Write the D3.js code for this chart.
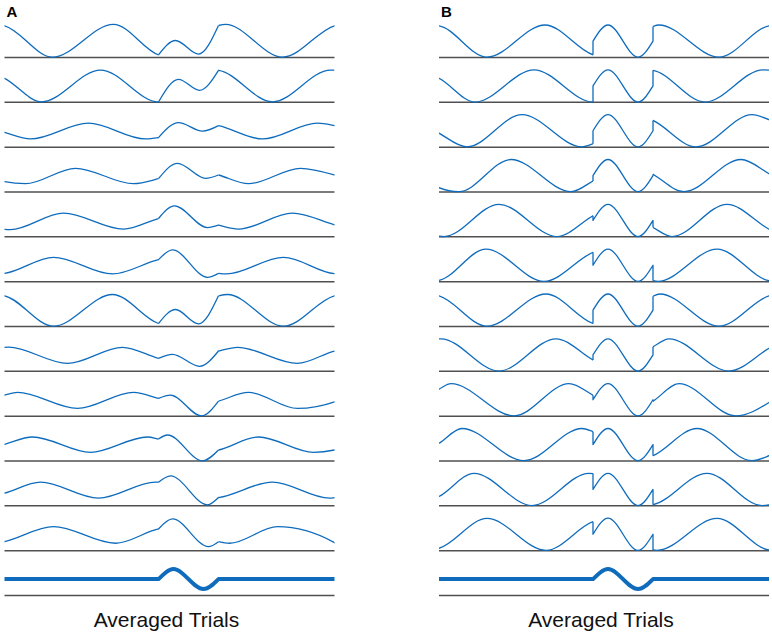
<!DOCTYPE html>
<html><head><meta charset="utf-8">
<script src="https://cdn.jsdelivr.net/npm/d3@7"></script>
<style>body{margin:0;background:#fff}svg{display:block}</style>
</head><body>
<svg id="c" width="772" height="635"></svg>
<script>
// ---------- data (time in samples 0..330, value above baseline) ----------
// Each background segment also carries the next extremum just beyond its
// visible range; it is clipped away when drawn.
const panelLabels = ["A", "B"];
const bottomLabel = "Averaged Trials";
const windowStart = 154, windowEnd = 214, timeEnd = 330;

// Panel A: single trials = background + evoked response
const preA = [
  [[-10,33.2],[0,31.7],[48,0.3],[109,33.2],[154,2.7],[164,0.3]],
  [[-21,32.3],[0,24],[37,0.5],[96,32.3],[154,0.3],[160,0.8]],
  [[-31,24],[0,14.8],[26,8.2],[84,24],[141,8.2],[154,9.5],[199,24]],
  [[-36,23.7],[0,10.3],[21,8.3],[71,23.7],[129,8.3],[154,13.3],[186,23.7]],
  [[-52,23.7],[0,7.5],[6,7.3],[59,23.7],[119,7.7],[154,18.3],[177,23.7]],
  [[-8,7.7],[0,8.3],[49,24.3],[108,7.7],[154,22],[165,24.3]],
  [[-10,32],[0,30.7],[49,0.3],[108,32],[154,3],[165,0.3]],
  [[-53,8],[4,24.2],[63,8],[118,24],[154,13],[176,8]],
  [[-44,7.7],[0,21],[13,23.7],[73,7.7],[129,23.7],[154,17.7],[186,7.7]],
  [[-29,8.7],[0,16.7],[28,24],[86,8.7],[143,24],[154,22],[200,8.7]],
  [[-21,7.7],[0,12.7],[36,23.7],[94,7.7],[151,23.7],[154,23.6],[209,7.7]],
  [[-8,7.4],[0,9],[49,24],[111,7.4],[154,21.7],[168,24]]
];
const winA = [
  [[154,2.7],[171,17],[194,3.4],[214,32]],
  [[154,0.3],[174,23],[195,12],[214,32]],
  [[154,9.5],[174,24.5],[198,16],[214,21.5]],
  [[154,13.3],[173,28.7],[201,13.7],[214,17]],
  [[154,18.3],[170,31],[203,9.3],[214,11.7]],
  [[154,22],[168,31.7],[203,4.3],[214,8.3]],
  [[154,3],[171,17],[194,2.7],[214,30.7]],
  [[154,13],[168,17],[195,5],[214,20.3]],
  [[154,17.7],[166,21],[197,0.3],[214,15]],
  [[154,22],[163,26],[198,0.2],[214,11]],
  [[154,23.6],[166,30],[203,1],[214,8.3]],
  [[154,21.7],[168,31.7],[204,4],[214,9]]
];
const postA = [
  [[214,32],[221,33.2],[278,0.3],[330,31.7],[336,33.2]],
  [[211,32.3],[214,32],[268,0.5],[326,32.3],[330,32.2]],
  [[200,24],[214,21.5],[258,8.2],[313,24],[330,21.5],[371,8.2]],
  [[186,23.7],[214,17],[244,8.3],[296,23.7],[330,17],[354,8.3]],
  [[177,23.7],[214,11.7],[234,7.7],[288,23.7],[330,12],[346,7.7]],
  [[214,8.3],[222,7.7],[279,24.3],[330,8],[337,7.7]],
  [[214,30.7],[223,32],[279,0.3],[330,30.7],[337,32]],
  [[176,8],[214,20.3],[233,24],[293,8],[330,20.3],[351,24]],
  [[186,7.7],[214,15],[244,23.7],[293,7.7],[330,14.3],[351,23.7]],
  [[200,8.7],[214,11],[254,24],[309,8.7],[330,11],[366,24]],
  [[209,7.7],[214,8.3],[268,23.7],[325,7.7],[330,8.1],[382,23.7]],
  [[214,9],[225,7.4],[273,24],[330,8],[331,7.4]]
];

// Panel B: background with phase reset inside the window
const preB = [
  [[-10,32.5],[0,31.7],[48,0.3],[106,32.5],[154,2.7],[164,0.3]],
  [[-22,32.5],[0,24],[36,0.3],[95,32.5],[154,0.3],[160,0.8]],
  [[-30,32.5],[0,14],[28,0.3],[83,32.5],[143,0.3],[154,3.4],[199,32.5]],
  [[-37,32.5],[0,4.3],[20,0.3],[72,32.5],[132,0.3],[154,11],[188,32.5]],
  [[-53,32.5],[0,0.6],[5,0.3],[60,32.5],[118,0.3],[154,21],[176,32.5]],
  [[-8,0.3],[0,1.2],[47,32.5],[105,0.3],[154,29.3],[163,32.5]],
  [[-10,32.5],[0,30.7],[48,0.3],[107,32.5],[154,3],[165,0.3]],
  [[-57,0.3],[2,32.5],[60,0.3],[117,32.5],[154,11.3],[175,0.3]],
  [[-45,0.3],[0,27],[12,32.5],[75,0.3],[130,32.5],[154,21],[187,0.3]],
  [[-34,0.3],[0,17.7],[23,32.5],[85,0.3],[143,32.5],[154,29.3],[200,0.3]],
  [[-22,0.3],[0,9.3],[35,32.5],[93,0.3],[150,32.5],[154,32.3],[208,0.3]],
  [[-10,0.3],[0,2.4],[48,32.2],[107,0.3],[154,29],[165,32.2]]
];
const resetWindowB = [[154,16.4],[169,32.5],[199,0.3],[214,16.4]];
const postB = [
  [[214,31],[220,32.5],[280,0.3],[330,31.7],[337,32.5]],
  [[210,32.5],[214,32],[266,0.3],[324,32.5],[330,32.2]],
  [[199,32.5],[214,26.7],[257,0.3],[313,32.5],[330,27.4],[371,0.3]],
  [[188,32.5],[214,17.7],[245,0.3],[302,32.5],[330,18.3],[359,0.3]],
  [[176,32.5],[214,9.3],[233,0.3],[288,32.5],[330,7.7],[346,0.3]],
  [[214,1],[219,0.3],[278,32.5],[330,1],[335,0.3]],
  [[214,30.3],[221,32.5],[280,0.3],[330,30.7],[337,32.5]],
  [[175,0.3],[214,24.6],[230,32.5],[290,0.3],[330,23],[347,32.5]],
  [[187,0.3],[214,15],[240,32.5],[297,0.3],[330,13.7],[354,32.5]],
  [[200,0.3],[214,5.3],[258,32.5],[313,0.3],[330,5.3],[370,32.5]],
  [[208,0.3],[214,1.2],[268,32.5],[323,0.3],[330,0.9],[380,32.5]],
  [[214,0.7],[218,0.3],[278,32.2],[330,0.7],[334,0.3]]
];

// Averaged trials (same in both panels)
const avgPre = [[0,16.4],[154,16.4]];
const avgWindow = [[154,16.4],[169,26.4],[199,6.4],[214,16.4]];
const avgPost = [[214,16.4],[330,16.4]];

// ---------- drawing ----------
const svg = d3.select("#c");
const defs = svg.append("defs");
const blue = "#0f6cbd";
const xA = d3.scaleLinear().domain([0,timeEnd]).range([4.5,334.5]);
const xB = d3.scaleLinear().domain([0,timeEnd]).range([439,769]);
const rowY = d3.scaleLinear().domain([0,12]).range([57.5,595.5]);
const vY = d3.scaleLinear().domain([0,33]).range([0,-33]);

function gen(x,row){
  const base = rowY(row);
  return d3.line().x(d=>x(d[0])).y(d=>base+vY(d[1])).curve(d3.curveMonotoneX);
}
function valueAt(seg,t){ const p = seg.find(d=>d[0]===t); return p ? p[1] : null; }

[[xA,0],[xB,1]].forEach(([x,p])=>{
  const id = panelLabels[p];
  defs.append("clipPath").attr("id","pre"+id).append("rect")
    .attr("x",x(0)).attr("y",0).attr("width",x(windowStart)-x(0)).attr("height",635);
  defs.append("clipPath").attr("id","post"+id).append("rect")
    .attr("x",x(windowEnd)).attr("y",0).attr("width",x(timeEnd)-x(windowEnd)).attr("height",635);

  const g = svg.append("g");
  g.selectAll("line.base").data(d3.range(13)).join("line")
    .attr("x1", x(0)).attr("x2", x(timeEnd))
    .attr("y1", d=>rowY(d)).attr("y2", d=>rowY(d))
    .attr("stroke","#505050").attr("stroke-width",1.5);

  const pre = p===0 ? preA : preB;
  const post = p===0 ? postA : postB;
  const win = d3.range(12).map(i => p===0 ? winA[i] : resetWindowB);
  const style = s => s.attr("fill","none").attr("stroke",blue).attr("stroke-width",1.3).attr("stroke-linejoin","round");

  d3.range(12).forEach(i=>{
    const l = gen(x,i), base = rowY(i);
    style(g.append("path").attr("d",l(pre[i])).attr("clip-path",`url(#pre${id})`));
    style(g.append("path").attr("d",l(post[i])).attr("clip-path",`url(#post${id})`));
    const a = valueAt(pre[i],windowStart), b = valueAt(post[i],windowEnd);
    const body = l(win[i]).replace(/^M/,"L");
    const d = `M${x(windowStart)},${base+vY(a)}` + body + `L${x(windowEnd)},${base+vY(b)}`;
    style(g.append("path").attr("d",d));
  });

  const la = gen(x,12);
  const dAvg = la(avgPre) + la(avgWindow).replace(/^M/,"L") + la(avgPost).replace(/^M/,"L");
  g.append("path").attr("d",dAvg).attr("fill","none").attr("stroke",blue)
    .attr("stroke-width",4).attr("stroke-linejoin","round");

  g.append("text").attr("x", x(0)+2).attr("y",16.7).text(panelLabels[p])
    .attr("font-family","Liberation Sans, Arial, sans-serif").attr("font-weight","bold").attr("font-size",15);
  g.append("text").attr("x", x(162)).attr("y",626.5).attr("text-anchor","middle").text(bottomLabel)
    .attr("font-family","Liberation Sans, Arial, sans-serif").attr("font-size",21).attr("fill","#111");
});
</script>
</body></html>
